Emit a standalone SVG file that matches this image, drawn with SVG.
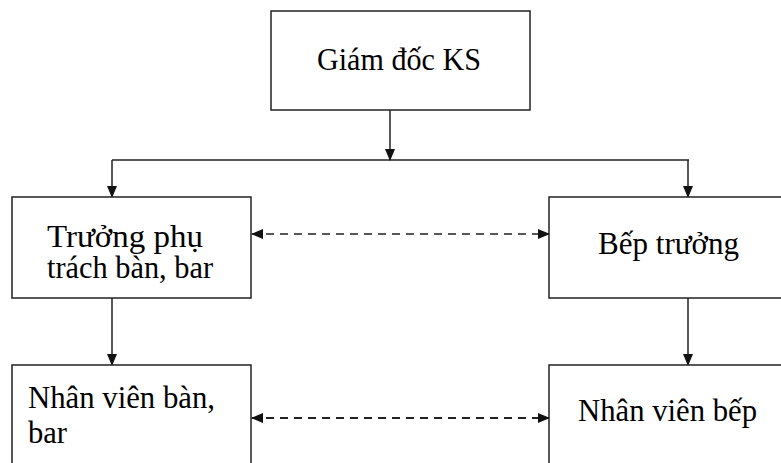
<svg xmlns="http://www.w3.org/2000/svg" width="781" height="463" viewBox="0 0 781 463">
<style>
.box{fill:#fff;stroke:#222;stroke-width:1.5}
.t{font-family:'Liberation Serif','Times New Roman',serif;font-size:30.5px;fill:#000}
.ln{stroke:#222;stroke-width:1.5;fill:none}
.ds{stroke:#222;stroke-width:1.5;fill:none;stroke-dasharray:8 6}
.ds2{stroke:#222;stroke-width:2.2;fill:none;stroke-dasharray:8 6}
</style>
<defs>
<marker id="ah" markerUnits="userSpaceOnUse" markerWidth="12" markerHeight="10" refX="11" refY="5" orient="auto-start-reverse" viewBox="0 0 12 10">
<path d="M0,0 L12,5 L0,10 Z" fill="#111"/>
</marker>
</defs>
<rect width="781" height="463" fill="#fff"/>
<g id="connectors">
<line class="ln" x1="390" y1="110" x2="390" y2="160" marker-end="url(#ah)"/>
<line class="ln" x1="112" y1="160" x2="689" y2="160"/>
<line class="ln" x1="112" y1="160" x2="112" y2="197" marker-end="url(#ah)"/>
<line class="ln" x1="688" y1="160" x2="688" y2="197" marker-end="url(#ah)"/>
<line class="ln" x1="112" y1="298" x2="112" y2="365" marker-end="url(#ah)"/>
<line class="ln" x1="688" y1="298" x2="688" y2="365" marker-end="url(#ah)"/>
<line class="ds" x1="252" y1="234" x2="549" y2="234" marker-start="url(#ah)" marker-end="url(#ah)"/>
<line class="ds2" x1="252" y1="418" x2="549" y2="418" marker-start="url(#ah)" marker-end="url(#ah)"/>
</g>
<g id="giam-doc">
<rect class="box" x="271" y="11" width="259" height="99"/>
<text class="t" x="317" y="70" textLength="164" lengthAdjust="spacingAndGlyphs">Giám đốc KS</text>
</g>
<g id="truong-phu-trach">
<rect class="box" x="12" y="197" width="239" height="101"/>
<text class="t" x="47" y="247" textLength="156" lengthAdjust="spacingAndGlyphs">Trưởng phụ</text>
<text class="t" x="47" y="278" textLength="166" lengthAdjust="spacingAndGlyphs">trách bàn, bar</text>
</g>
<g id="bep-truong">
<rect class="box" x="549" y="197" width="250" height="101"/>
<text class="t" x="598" y="254" textLength="141" lengthAdjust="spacingAndGlyphs">Bếp trưởng</text>
</g>
<g id="nhan-vien-ban">
<rect class="box" x="12" y="365" width="239" height="110"/>
<text class="t" x="28" y="408" textLength="187" lengthAdjust="spacingAndGlyphs">Nhân viên bàn,</text>
<text class="t" x="28" y="443" textLength="39" lengthAdjust="spacingAndGlyphs">bar</text>
</g>
<g id="nhan-vien-bep">
<rect class="box" x="549" y="365" width="250" height="110"/>
<text class="t" x="578" y="421" textLength="179" lengthAdjust="spacingAndGlyphs">Nhân viên bếp</text>
</g>
</svg>
